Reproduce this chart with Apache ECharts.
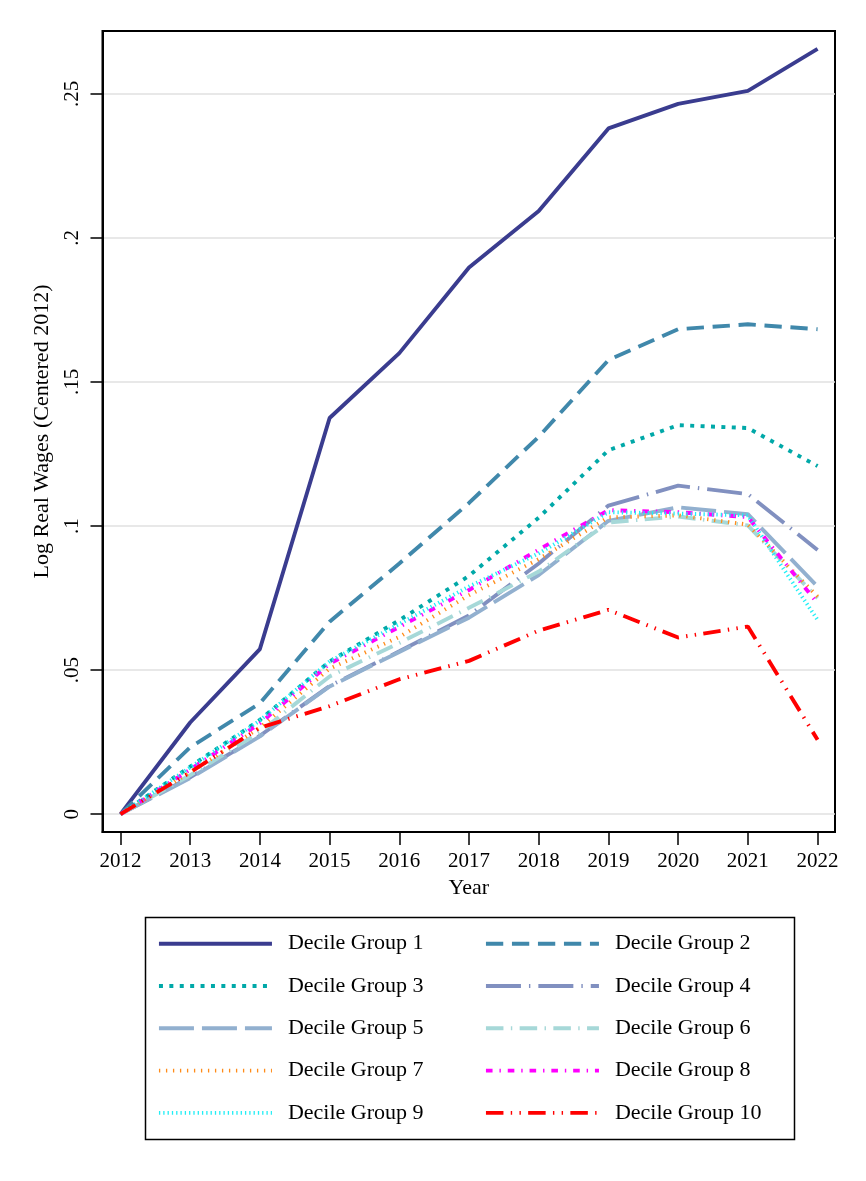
<!DOCTYPE html>
<html>
<head>
<meta charset="utf-8">
<script src="https://cdn.jsdelivr.net/npm/echarts@6/dist/echarts.min.js"></script>
<style>
html,body{margin:0;padding:0;background:#fff;}
#chart{width:866px;height:1181px;}
</style>
</head>
<body>
<div id="chart"></div>
<script>
const years = [2012, 2013, 2014, 2015, 2016, 2017, 2018, 2019, 2020, 2021, 2022];
const yTicks = [0, 0.05, 0.1, 0.15, 0.2, 0.25];
const yTickLabels = ['0', '.05', '.1', '.15', '.2', '.25'];
const seriesNames = ['Decile Group 1','Decile Group 2','Decile Group 3','Decile Group 4','Decile Group 5','Decile Group 6','Decile Group 7','Decile Group 8','Decile Group 9','Decile Group 10'];
const d1 = [0, 0.0318, 0.0573, 0.1375, 0.160, 0.1897, 0.2093, 0.238, 0.2465, 0.251, 0.2656];
const d2 = [0, 0.0232, 0.0385, 0.0668, 0.087, 0.108, 0.131, 0.1576, 0.1683, 0.170, 0.1683];
const d3 = [0, 0.0165, 0.0327, 0.0530, 0.0673, 0.0827, 0.1029, 0.1263, 0.135, 0.134, 0.1208];
const d4 = [0, 0.0128, 0.0272, 0.0445, 0.0565, 0.0690, 0.0870, 0.1071, 0.1140, 0.1111, 0.0917];
const d5 = [0, 0.0125, 0.0270, 0.0443, 0.0563, 0.0682, 0.0830, 0.1018, 0.1065, 0.1041, 0.0790];
const d6 = [0, 0.0135, 0.0285, 0.0478, 0.0594, 0.0716, 0.0842, 0.1012, 0.1033, 0.1002, 0.0750];
const d7 = [0, 0.0145, 0.0300, 0.0505, 0.0615, 0.0760, 0.0885, 0.1030, 0.1037, 0.1005, 0.0755];
const d8 = [0, 0.0155, 0.0315, 0.0522, 0.0650, 0.0778, 0.0918, 0.1055, 0.1048, 0.1031, 0.0732];
const d9 = [0, 0.0162, 0.0325, 0.0530, 0.0660, 0.0790, 0.0905, 0.1048, 0.1043, 0.1037, 0.0674];
const d10 = [0, 0.0145, 0.0300, 0.0375, 0.0468, 0.0532, 0.0637, 0.0709, 0.0613, 0.0651, 0.0258];
const values = [d1, d2, d3, d4, d5, d6, d7, d8, d9, d10];

const styles = [
  {color:'#3a3c8f', type:'solid'},
  {color:'#4088ab', type:[17.3, 8.7]},
  {color:'#00a8a8', type:[4, 6.4]},
  {color:'#8190c0', type:[35, 8, 1.4, 8]},
  {color:'#92b0cf', type:[35, 8]},
  {color:'#a6d8d8', type:[17.5, 7.4, 1.4, 7.4]},
  {color:'#ff8c1a', type:[1.3, 5.7]},
  {color:'#ff00ff', type:[6.6, 6.9, 1.4, 6.9]},
  {color:'#22eef5', type:[1.3, 3]},
  {color:'#ff0000', type:[17.5, 7.3, 1.4, 7.3, 1.4, 7.3]}
];
const LW = 3.9;
const FONT = 'Liberation Serif';
const chart = echarts.init(document.getElementById('chart'), null, {renderer:'canvas'});

const series = seriesNames.map((name, i) => ({
  name: name,
  type: 'line',
  symbol: 'none',
  smooth: false,
  animation: false,
  data: years.map((y, j) => [y, values[i][j]]),
  lineStyle: {color: styles[i].color, width: LW, type: styles[i].type, cap: 'butt'},
  itemStyle: {color: styles[i].color}
}));

const legendCommon = {
  orient: 'vertical',
  padding: 0,
  itemWidth: 113,
  itemHeight: 22,
  itemGap: 20.3,
  selectedMode: false,
  itemStyle: {opacity: 0, borderWidth: 0},
  lineStyle: {width: LW, cap: 'butt'},
  textStyle: {fontFamily: FONT, fontSize: 22, color: '#000', padding: [0, 0, 0, 11], lineHeight: 22}
};

chart.setOption({
  animation: false,
  backgroundColor: '#fff',
  grid: {left: 102.5, top: 31, right: 31, bottom: 349, show: true, borderColor: '#000', borderWidth: 2, containLabel: false},
  xAxis: {
    type: 'value',
    min: 2011.742,
    max: 2022.25,
    name: 'Year',
    nameLocation: 'middle',
    nameGap: 42,
    nameTextStyle: {fontFamily: FONT, fontSize: 22, color: '#000'},
    axisLine: {show: true, onZero: false, lineStyle: {color: '#000', width: 2}},
    axisTick: {show: true, length: 13, lineStyle: {color: '#000', width: 1.5}, customValues: years},
    axisLabel: {show: true, margin: 19, fontFamily: FONT, fontSize: 21, color: '#000', customValues: years, formatter: v => String(v)},
    splitLine: {show: false}
  },
  yAxis: {
    type: 'value',
    min: -0.0062,
    max: 0.2718,
    name: 'Log Real Wages (Centered 2012)',
    nameLocation: 'middle',
    nameGap: 45,
    nameTextStyle: {fontFamily: FONT, fontSize: 22, color: '#000'},
    axisLine: {show: true, onZero: false, lineStyle: {color: '#000', width: 2}},
    axisTick: {show: true, length: 12, lineStyle: {color: '#000', width: 1.5}, customValues: yTicks},
    axisLabel: {show: true, rotate: 90, margin: 20, fontFamily: FONT, fontSize: 21, color: '#000', customValues: yTicks,
      formatter: v => { const k = yTicks.findIndex(t => Math.abs(t - v) < 1e-9); return k >= 0 ? yTickLabels[k] : ''; }},
    splitLine: {show: true, lineStyle: {color: '#e0e0e0', width: 1.5}}
  },
  legend: [
    Object.assign({}, legendCommon, {left: 157, top: 932.7, data: [seriesNames[0], seriesNames[2], seriesNames[4], seriesNames[6], seriesNames[8]]}),
    Object.assign({}, legendCommon, {left: 484, top: 932.7, data: [seriesNames[1], seriesNames[3], seriesNames[5], seriesNames[7], seriesNames[9]]})
  ],
  graphic: [
    {type: 'rect', left: 143, top: 915, shape: {width: 649, height: 222}, style: {fill: 'none', stroke: '#000', lineWidth: 1.5}, silent: true}
  ],
  series: series
});
</script>
</body>
</html>
